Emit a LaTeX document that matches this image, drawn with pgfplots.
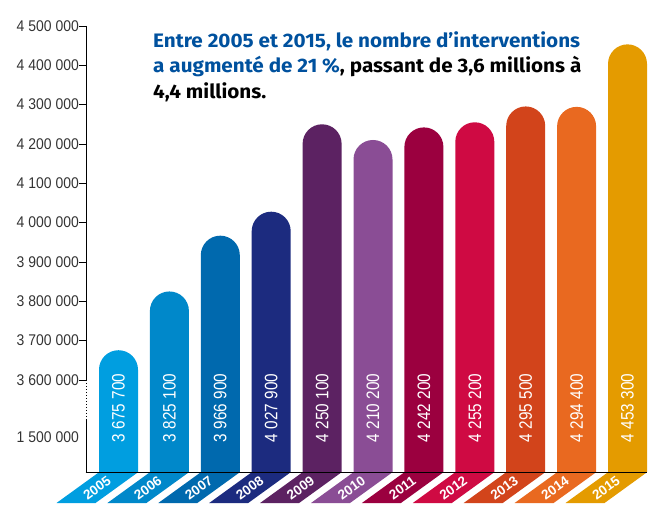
\documentclass[border=0pt]{standalone}
\usepackage{pgfplots}
\pgfplotsset{compat=1.18}
\usepackage{fontspec}
\setmainfont{Liberation Sans}
\newfontfamily\titlefont{Fira Sans}
\definecolor{c0}{HTML}{009EE0}
\definecolor{c1}{HTML}{0088CA}
\definecolor{c2}{HTML}{0069AE}
\definecolor{c3}{HTML}{1C2B7F}
\definecolor{c4}{HTML}{5C2262}
\definecolor{c5}{HTML}{8A4D95}
\definecolor{c6}{HTML}{9B003F}
\definecolor{c7}{HTML}{CF0A43}
\definecolor{c8}{HTML}{D2441B}
\definecolor{c9}{HTML}{E96920}
\definecolor{c10}{HTML}{E49B00}
\definecolor{titleblue}{HTML}{00519E}
\definecolor{tickgray}{HTML}{333333}
\newcommand{\tl}[1]{\scalebox{0.9}[1]{#1}}
\newcommand{\tfont}{\titlefont\bfseries\fontsize{19.5}{24}\selectfont}
\newlength\Lone
\settowidth{\Lone}{\tfont Entre 2005 et 2015, le nombre d’interventions}
\pgfmathsetmacro{\tsc}{427/\Lone}
\newcommand{\T}[1]{\scalebox{\tsc}[1]{\tfont #1}}
\newcommand{\vl}[1]{\scalebox{0.85}[1]{\fontsize{18}{18}\selectfont #1}}
\pgfplotsset{mybar/.style={ybar, bar width=39pt, bar shift=0pt, draw=none, rounded corners=19.5pt, fill=#1}}
\begin{document}
\begin{tikzpicture}
\useasboundingbox (0,0) rectangle (664pt,523pt);
\begin{axis}[
  at={(86pt,21.1pt)}, anchor=south west,
  scale only axis, width=561pt, height=475.9pt,
  xmin=-0.6385, xmax=10.383,
  ymin=3290000, ymax=4500000,
  axis lines*=left,
  y axis line style={draw=none},
  x axis line style={draw=none},
  xtick=\empty,
  ytick={3600000,3700000,3800000,3900000,4000000,4100000,4200000,4300000,4400000,4500000},
  yticklabels={\tl{3 600 000},\tl{3 700 000},\tl{3 800 000},\tl{3 900 000},\tl{4 000 000},\tl{4 100 000},\tl{4 200 000},\tl{4 300 000},\tl{4 400 000},\tl{4 500 000}},
  extra y ticks={3455100},
  extra y tick labels={\tl{1 500 000}},
  extra y tick style={major tick style={draw=none}},
  tick align=outside,
  major tick length=7pt,
  tick style={line width=0.8pt, black},
  yticklabel style={font=\fontsize{15.5}{16}\selectfont, text=tickgray, inner sep=0pt},
  scaled y ticks=false,
  clip mode=individual,
]
\addplot[mybar=c0] coordinates {(0,3675700)};
\addplot[mybar=c1] coordinates {(1,3825100)};
\addplot[mybar=c2] coordinates {(2,3966900)};
\addplot[mybar=c3] coordinates {(3,4027900)};
\addplot[mybar=c4] coordinates {(4,4250100)};
\addplot[mybar=c5] coordinates {(5,4210200)};
\addplot[mybar=c6] coordinates {(6,4242200)};
\addplot[mybar=c7] coordinates {(7,4255200)};
\addplot[mybar=c8] coordinates {(8,4295500)};
\addplot[mybar=c9] coordinates {(9,4294400)};
\addplot[mybar=c10] coordinates {(10,4453300)};
% y axis line with break
\draw[line width=0.8pt] (axis cs:-0.6385,4500000) -- (axis cs:-0.6385,3600000);
\draw[line width=0.8pt, dash pattern=on 1.5pt off 1.5pt] (axis cs:-0.6385,3600000) -- (axis cs:-0.6385,3498300);
\draw[line width=0.8pt] (axis cs:-0.6385,3498300) -- (axis cs:-0.6385,3366000);
% value labels
\node[rotate=90, text=white, inner sep=0pt] at (axis cs:0,3528800) {\vl{3 675 700}};
\node[rotate=90, text=white, inner sep=0pt] at (axis cs:1,3528800) {\vl{3 825 100}};
\node[rotate=90, text=white, inner sep=0pt] at (axis cs:2,3528800) {\vl{3 966 900}};
\node[rotate=90, text=white, inner sep=0pt] at (axis cs:3,3528800) {\vl{4 027 900}};
\node[rotate=90, text=white, inner sep=0pt] at (axis cs:4,3528800) {\vl{4 250 100}};
\node[rotate=90, text=white, inner sep=0pt] at (axis cs:5,3528800) {\vl{4 210 200}};
\node[rotate=90, text=white, inner sep=0pt] at (axis cs:6,3528800) {\vl{4 242 200}};
\node[rotate=90, text=white, inner sep=0pt] at (axis cs:7,3528800) {\vl{4 255 200}};
\node[rotate=90, text=white, inner sep=0pt] at (axis cs:8,3528800) {\vl{4 295 500}};
\node[rotate=90, text=white, inner sep=0pt] at (axis cs:9,3528800) {\vl{4 294 400}};
\node[rotate=90, text=white, inner sep=0pt] at (axis cs:10,3528800) {\vl{4 453 300}};
\coordinate (xl) at (axis cs:-0.6385,3366000);
\coordinate (xr) at (axis cs:10.383,3366000);
\coordinate (t0) at (axis cs:0,3366000);
\coordinate (t1) at (axis cs:1,3366000);
\coordinate (t2) at (axis cs:2,3366000);
\coordinate (t3) at (axis cs:3,3366000);
\coordinate (t4) at (axis cs:4,3366000);
\coordinate (t5) at (axis cs:5,3366000);
\coordinate (t6) at (axis cs:6,3366000);
\coordinate (t7) at (axis cs:7,3366000);
\coordinate (t8) at (axis cs:8,3366000);
\coordinate (t9) at (axis cs:9,3366000);
\coordinate (t10) at (axis cs:10,3366000);
\end{axis}
% hide the lower part of the bars, below the x axis
\fill[white] ([xshift=-1pt,yshift=-0.2pt]xl) rectangle ([xshift=2pt,yshift=-40pt]xr);
\foreach \i/\y in {0/2005,1/2006,2/2007,3/2008,4/2009,5/2010,6/2011,7/2012,8/2013,9/2014,10/2015}{
  \fill[c\i] ([xshift=-20pt,yshift=-0.6pt]t\i) -- ([xshift=19pt,yshift=-0.6pt]t\i) -- ([xshift=-23pt,yshift=-31pt]t\i) -- ([xshift=-62pt,yshift=-31pt]t\i) -- cycle;
  \node[rotate=36, text=white, inner sep=0pt, font=\bfseries\fontsize{13.5}{13.5}\selectfont] at ([xshift=-21.5pt,yshift=-16pt]t\i) {\y};
}
\draw[line width=0.8pt] ([xshift=-0.4pt]xl) -- (xr);
\node[anchor=base west, inner sep=0pt, text=titleblue] at (153pt,475.5pt) {\T{Entre 2005 et 2015, le nombre d’interventions}};
\node[anchor=base west, inner sep=0pt] at (153pt,450pt) {\T{\textcolor{titleblue}{a augmenté de 21~\%}, passant de 3,6 millions à}};
\node[anchor=base west, inner sep=0pt] at (153pt,424.5pt) {\T{4,4 millions.}};
\end{tikzpicture}
\end{document}
